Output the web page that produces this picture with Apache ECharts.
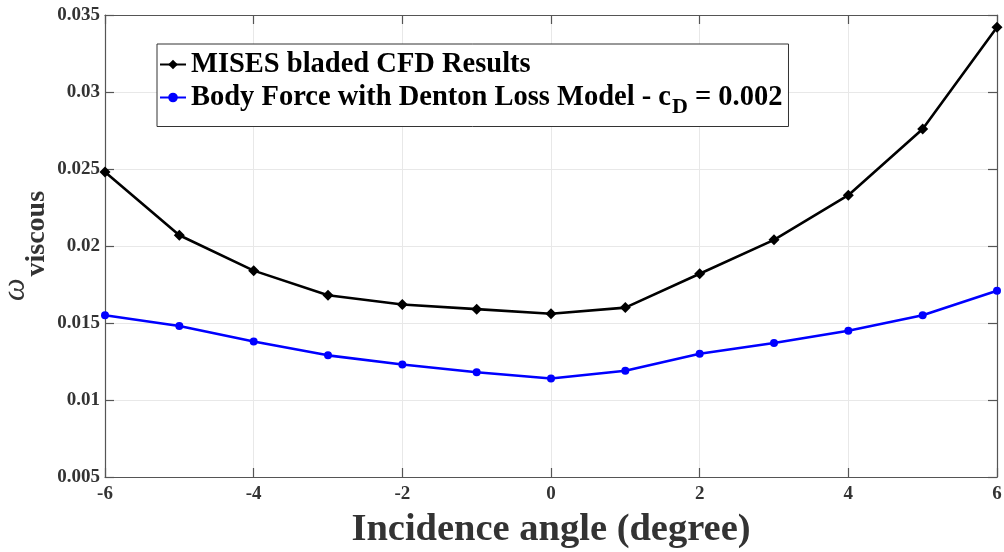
<!DOCTYPE html>
<html>
<head>
<meta charset="utf-8">
<script src="https://cdn.jsdelivr.net/npm/echarts@6/dist/echarts.min.js"></script>
<style>
  html, body { margin: 0; padding: 0; background: #fff; }
  #chart { width: 1004px; height: 552px; }
</style>
</head>
<body>
<div id="chart"></div>
<script>
// Incidence angle sweep (degrees)
const incidence = [-6, -5, -4, -3, -2, -1, 0, 1, 2, 3, 4, 5, 6];
// Viscous loss coefficient from bladed MISES runs
const misesLoss = [0.0248, 0.0207, 0.0184, 0.0168, 0.0162, 0.0159, 0.0156, 0.0160, 0.0182, 0.0204, 0.0233, 0.0276, 0.0342];
// Viscous loss coefficient from the body-force model with Denton losses
const bodyForceLoss = [0.0155, 0.0148, 0.0138, 0.0129, 0.0123, 0.0118, 0.0114, 0.0119, 0.0130, 0.0137, 0.0145, 0.0155, 0.0171];

const yTicks = { min: 0.005, max: 0.035, step: 0.005 };
const xTicks = { min: -6, max: 6, step: 2 };

const pair = (xs, ys) => xs.map((x, i) => [x, ys[i]]);

const serif = '"Liberation Serif", "DejaVu Serif", serif';
const axisGrey = '#555555';
const gridGrey = '#e8e8e8';

const chart = echarts.init(document.getElementById('chart'), null, { renderer: 'canvas' });

const baseAxis = {
  axisLine: { show: true, onZero: false, lineStyle: { color: axisGrey, width: 1.2 } },
  axisTick: { show: true, inside: true, length: 9, lineStyle: { color: axisGrey, width: 1.2 } },
  splitLine: { show: true, lineStyle: { color: gridGrey, width: 1 } }
};

chart.setOption({
  animation: false,
  backgroundColor: '#fff',
  grid: { left: 105, right: 7, top: 15, bottom: 75, containLabel: false, outerBoundsMode: 'none' },
  legend: {
    orient: 'vertical',
    left: 157,
    top: 44,
    padding: [6, 6, 8, 2],
    itemGap: 4,
    itemWidth: 26,
    itemHeight: 12,
    backgroundColor: '#fff',
    borderColor: '#333',
    borderWidth: 1,
    textStyle: {
      fontFamily: serif,
      fontWeight: 'bold',
      fontSize: 28.5,
      color: '#000',
      rich: {
        n: { fontFamily: serif, fontWeight: 'bold', fontSize: 28.5, color: '#000' },
        sub: { fontFamily: serif, fontWeight: 'bold', fontSize: 22, color: '#000', padding: [20, 0, 0, 1] }
      }
    },
    formatter: name => name === 'bf'
      ? '{n|Body Force with Denton Loss Model - c}{sub|D}{n| = 0.002}'
      : '{n|MISES bladed CFD Results}',
    data: ['mises', 'bf']
  },
  xAxis: [
    Object.assign({}, baseAxis, {
      type: 'value',
      min: xTicks.min, max: xTicks.max, interval: xTicks.step,
      name: 'Incidence angle (degree)',
      nameLocation: 'middle',
      nameMoveOverlap: false,
      nameGap: 34,
      nameTextStyle: { fontFamily: serif, fontWeight: 'bold', fontSize: 38.5, color: '#333' },
      axisLabel: { fontFamily: serif, fontWeight: 'bold', fontSize: 19, color: '#333', margin: 8 }
    }),
    Object.assign({}, baseAxis, {
      type: 'value', position: 'top',
      min: xTicks.min, max: xTicks.max, interval: xTicks.step,
      axisLabel: { show: false }, splitLine: { show: false }
    })
  ],
  yAxis: [
    Object.assign({}, baseAxis, {
      type: 'value',
      min: yTicks.min, max: yTicks.max, interval: yTicks.step,
      name: '{w|ω}{s|viscous}',
      nameLocation: 'middle',
      nameMoveOverlap: false,
      nameRotate: 90,
      nameGap: 54,
      nameTextStyle: {
        rich: {
          w: { fontFamily: serif, fontStyle: 'italic', fontSize: 32, color: '#333' },
          s: { fontFamily: serif, fontWeight: 'bold', fontSize: 28, color: '#333', padding: [42, 0, 0, 2] }
        }
      },
      axisLabel: { fontFamily: serif, fontWeight: 'bold', fontSize: 19, color: '#333', margin: 5 }
    }),
    Object.assign({}, baseAxis, {
      type: 'value', position: 'right',
      min: yTicks.min, max: yTicks.max, interval: yTicks.step,
      axisLabel: { show: false }, splitLine: { show: false }
    })
  ],
  series: [
    {
      name: 'mises',
      type: 'line',
      data: pair(incidence, misesLoss),
      symbol: 'diamond',
      symbolSize: 11,
      lineStyle: { color: '#000', width: 2.6 },
      itemStyle: { color: '#000' },
      z: 3
    },
    {
      name: 'bf',
      type: 'line',
      data: pair(incidence, bodyForceLoss),
      symbol: 'circle',
      symbolSize: 8,
      lineStyle: { color: '#0000ff', width: 2.6 },
      itemStyle: { color: '#0000ff' },
      z: 3
    }
  ]
});
</script>
</body>
</html>
